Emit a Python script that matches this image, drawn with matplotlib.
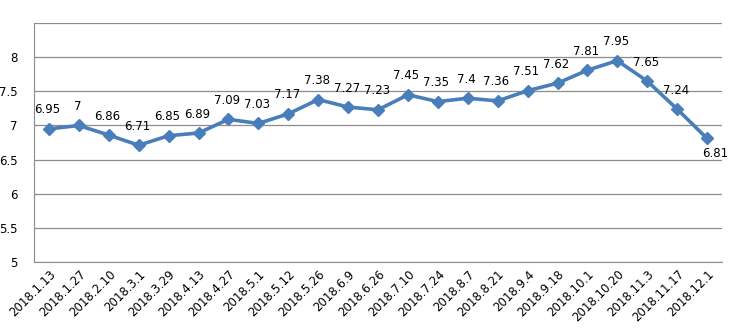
import matplotlib.pyplot as plt

dates = ["2018.1.13", "2018.1.27", "2018.2.10", "2018.3.1", "2018.3.29", "2018.4.13",
         "2018.4.27", "2018.5.1", "2018.5.12", "2018.5.26", "2018.6.9", "2018.6.26",
         "2018.7.10", "2018.7.24", "2018.8.7", "2018.8.21", "2018.9.4", "2018.9.18",
         "2018.10.1", "2018.10.20", "2018.11.3", "2018.11.17", "2018.12.1"]
values = [6.95, 7, 6.86, 6.71, 6.85, 6.89, 7.09, 7.03, 7.17, 7.38, 7.27, 7.23,
          7.45, 7.35, 7.4, 7.36, 7.51, 7.62, 7.81, 7.95, 7.65, 7.24, 6.81]
labels = ["6.95", "7", "6.86", "6.71", "6.85", "6.89", "7.09", "7.03", "7.17", "7.38",
          "7.27", "7.23", "7.45", "7.35", "7.4", "7.36", "7.51", "7.62", "7.81", "7.95",
          "7.65", "7.24", "6.81"]
yticks = [5, 5.5, 6, 6.5, 7, 7.5, 8, 8.5]
ytick_labels = ["5", "5.5", "6", "6.5", "7", "7.5", "8", ""]

fig = plt.figure(figsize=(7.34, 3.3), dpi=100)
ax = fig.add_axes([0.0463, 0.206, 0.9374, 0.724])

x = list(range(len(dates)))
ax.plot(x, values, color="#4a7ebb", lw=2.6, marker="D", ms=6.5, zorder=3)

for i, (v, t) in enumerate(zip(values, labels)):
    if i == len(values) - 1:
        ax.annotate(t, (i, v), xytext=(6, -6), textcoords="offset points",
                    ha="center", va="top", fontsize=8.5)
    else:
        ax.annotate(t, (i, v), xytext=(-1, 9), textcoords="offset points",
                    ha="center", va="bottom", fontsize=8.5)

ax.set_xlim(-0.5, len(dates) - 0.5)
ax.set_ylim(5, 8.5)
ax.set_yticks(yticks)
ax.set_yticklabels(ytick_labels, fontsize=8.5)
ax.set_xticks(x)
ax.set_xticklabels(dates, rotation=45, ha="right", rotation_mode="anchor", fontsize=8.5)
ax.tick_params(length=0)
ax.tick_params(axis="y", pad=12)
ax.tick_params(axis="x", pad=4)
ax.grid(axis="y", color="#8c8c8c", lw=0.9)
ax.set_axisbelow(True)
for s in ["right", "top"]:
    ax.spines[s].set_visible(False)
ax.spines["left"].set_color("#8c8c8c")
ax.spines["bottom"].set_color("#8c8c8c")

fig.savefig("out.png", dpi=100)
